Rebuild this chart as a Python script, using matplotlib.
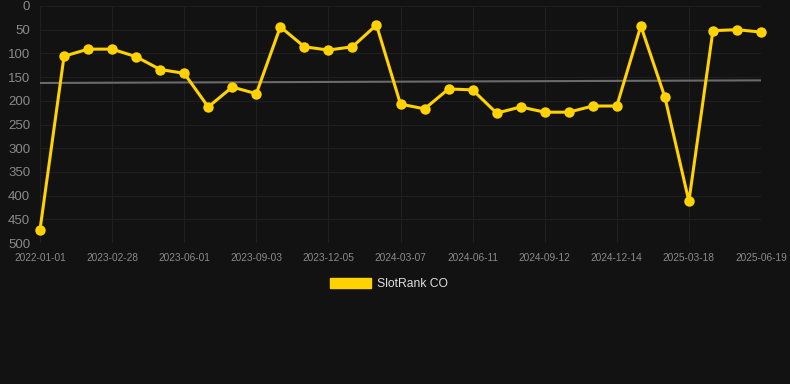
import matplotlib.pyplot as plt
import numpy as np
from matplotlib.patches import Patch

plt.rcParams['font.family'] = ['Liberation Sans', 'DejaVu Sans']

# data (rank, lower = better)
dates = ['2022-01-01', '', '', '2023-02-28', '', '', '2023-06-01', '', '', '2023-09-03', '', '',
         '2023-12-05', '', '', '2024-03-07', '', '', '2024-06-11', '', '', '2024-09-12', '', '',
         '2024-12-14', '', '', '2025-03-18', '', '', '2025-06-19']
rank = [472, 106, 91, 91, 107, 134, 142, 213, 171, 185, 44, 86, 93, 86, 40,
        207, 217, 175, 177, 226, 213, 224, 224, 211, 211, 42, 192, 412, 52, 50, 55]
yticks = [0, 50, 100, 150, 200, 250, 300, 350, 400, 450, 500]

bg = '#121212'
gold = '#FFD200'

fig = plt.figure(figsize=(7.9, 3.84), dpi=100, facecolor=bg)
ax = fig.add_axes([40/790, 1-243/384, (761-40)/790, (243-6)/384])
ax.set_facecolor(bg)

x = np.arange(len(rank))

# trend line (linear fit)
k, b = np.polyfit(x, rank, 1)
ax.plot(x, k*x + b, color='#6a6a6a', lw=1.5, zorder=2)

ax.plot(x, rank, color=gold, lw=2.2, marker='o', markersize=7.5, markeredgewidth=0,
        zorder=3, clip_on=False)

ax.set_xlim(0, len(rank) - 1)
ax.set_ylim(500, 0)
ax.set_yticks(yticks)
ax.set_xticks(x[::3])
ax.set_xticklabels([d for d in dates if d])

ax.grid(True, color='#1f1f1f', lw=0.8)
ax.set_axisbelow(True)
for s in ax.spines.values():
    s.set_visible(False)
ax.tick_params(axis='y', colors='#8a8a8a', labelsize=9.5, length=0, pad=7)
ax.tick_params(axis='x', colors='#8a8a8a', labelsize=7.3, length=0, pad=7)

fig.legend(handles=[Patch(color=gold)], labels=['SlotRank CO'], loc='center',
           bbox_to_anchor=(0.5 - 6/790, 1-284/384), frameon=False, labelcolor='#dddddd',
           fontsize=8.7, handlelength=3.4, handleheight=0.95, handletextpad=0.5)

fig.savefig('out.png', dpi=100, facecolor=bg)
